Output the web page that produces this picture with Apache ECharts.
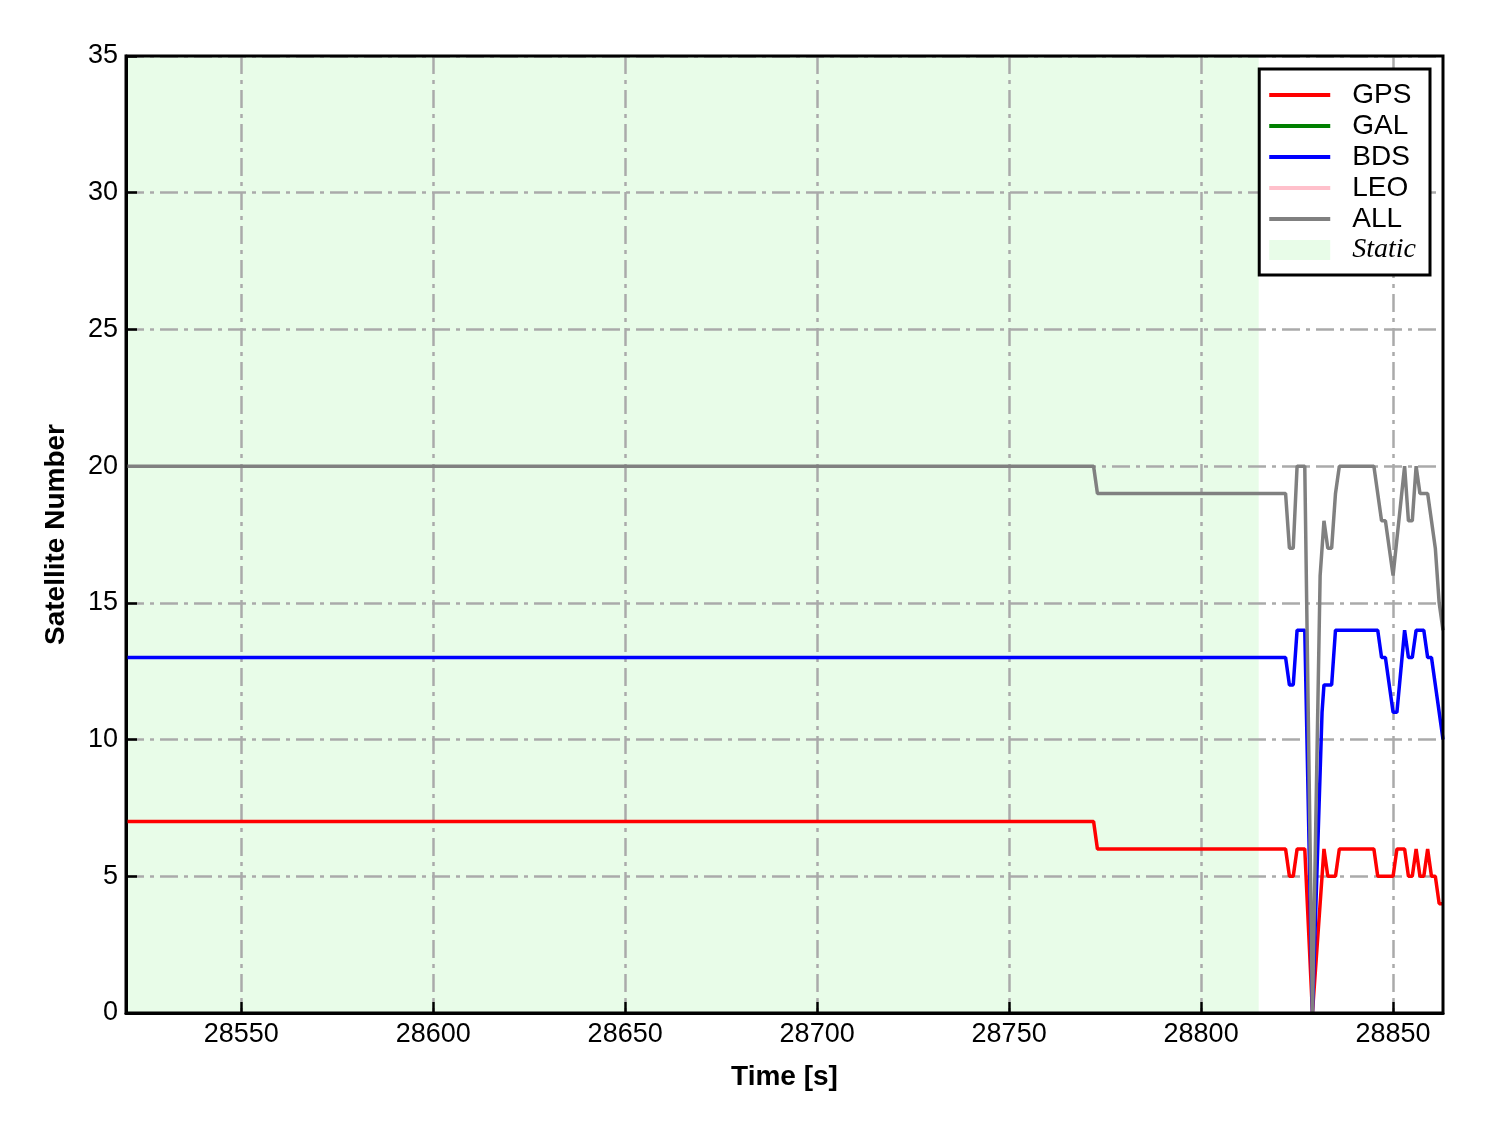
<!DOCTYPE html>
<html><head><meta charset="utf-8">
<script src="https://cdn.jsdelivr.net/npm/echarts@6/dist/echarts.min.js"></script>
<style>html,body{margin:0;padding:0;background:#fff}#c{width:1488px;height:1133px}</style>
</head><body><div id="c"></div>
<script>
// ---- data ----
const xTicks = [28550, 28600, 28650, 28700, 28750, 28800, 28850];
const yTicks = [0, 5, 10, 15, 20, 25, 30, 35];
const xRange = [28520, 28863];
const staticRange = [28520, 28815];

const gps = [[28520,7],[28772,7],[28773,6],[28822,6],[28823,5],[28824,5],[28825,6],[28827,6],[28829,0],[28832,6],[28833,5],[28835,5],[28836,6],[28845,6],[28846,5],[28850,5],[28851,6],[28853,6],[28854,5],[28855,5],[28856,6],[28857,5],[28858,5],[28859,6],[28860,5],[28861,5],[28862,4],[28863,4]];
const gal = [];
const bds = [[28520,13],[28822,13],[28823,12],[28824,12],[28825,14],[28827,14],[28829,0],[28831.5,11],[28832,12],[28834,12],[28835,14],[28846,14],[28847,13],[28848,13],[28850,11],[28851,11],[28853,14],[28854,13],[28855,13],[28856,14],[28858,14],[28859,13],[28860,13],[28863,10]];
const leo = [];
const allSat = [[28520,20],[28772,20],[28773,19],[28822,19],[28823,17],[28824,17],[28825,20],[28827,20],[28829,0],[28831,16],[28832,18],[28833,17],[28834,17],[28835,19],[28836,20],[28845,20],[28847,18],[28848,18],[28850,16],[28853,20],[28854,18],[28855,18],[28856,20],[28857,19],[28859,19],[28860,18],[28861,17],[28862,15],[28863,14]];

const FONT = 'Liberation Sans, Arial, sans-serif';
const G = {left: 126, right: 45, top: 56, bottom: 120};
const W = 1488, H = 1133;
const gridLine = {show: true, lineStyle: {color: '#aaaaaa', width: 2.5, type: [18, 6, 4, 6]}};

function lineSeries(name, data, color) {
  return {name, type: 'line', data, symbol: 'none', showSymbol: false, animation: false,
    lineStyle: {width: 3.5, color}, itemStyle: {color}, z: 3};
}
const lineIcon = 'path://M0,0L64,0L64,4L0,4Z';

const chart = echarts.init(document.getElementById('c'), null, {renderer: 'canvas'});
chart.setOption({
  animation: false,
  backgroundColor: '#ffffff',
  grid: {left: G.left, right: G.right, top: G.top, bottom: G.bottom, show: false},
  xAxis: {
    type: 'value', min: xRange[0], max: xRange[1],
    name: 'Time [s]', nameLocation: 'middle', nameGap: 50,
    nameTextStyle: {fontSize: 28, fontWeight: 'bold', color: '#000', fontFamily: FONT},
    axisLine: {show: true, lineStyle: {color: '#000', width: 3}},
    axisTick: {show: true, inside: true, length: 11, lineStyle: {color: '#000', width: 2.5}, customValues: xTicks},
    axisLabel: {color: '#000', fontSize: 27, fontFamily: FONT, margin: 8, customValues: xTicks, formatter: v => String(v)},
    splitLine: gridLine
  },
  yAxis: {
    type: 'value', min: yTicks[0], max: yTicks[yTicks.length - 1], interval: 5,
    name: 'Satellite Number', nameLocation: 'middle', nameGap: 56,
    nameTextStyle: {fontSize: 28, fontWeight: 'bold', color: '#000', fontFamily: FONT},
    axisLine: {show: true, lineStyle: {color: '#000', width: 3}},
    axisTick: {show: true, inside: true, length: 11, lineStyle: {color: '#000', width: 2.5}},
    axisLabel: {color: '#000', fontSize: 27, fontFamily: FONT, margin: 8, formatter: v => String(v)},
    splitLine: gridLine
  },
  legend: {
    orient: 'vertical', right: 58, top: 69,
    backgroundColor: '#fff', borderColor: '#000', borderWidth: 3,
    padding: [12, 14, 11, 10], itemWidth: 61, itemHeight: 20, itemGap: 3, symbolKeepAspect: true,
    textStyle: {fontSize: 28, lineHeight: 27, fontFamily: FONT, color: '#000', padding: [0, 0, 0, 17]},
    data: [
      {name: 'GPS', icon: lineIcon}, {name: 'GAL', icon: lineIcon}, {name: 'BDS', icon: lineIcon},
      {name: 'LEO', icon: lineIcon}, {name: 'ALL', icon: lineIcon},
      {name: 'Static', icon: 'rect', textStyle: {fontStyle: 'italic', fontFamily: 'Liberation Serif, Times New Roman, serif'}}
    ]
  },
  graphic: [{
    type: 'rect', z: 100, silent: true,
    shape: {x: G.left, y: G.top, width: W - G.left - G.right, height: H - G.top - G.bottom},
    style: {fill: 'none', stroke: '#000', lineWidth: 3}
  }],
  series: [
    {name: 'Static', type: 'bar', data: [], itemStyle: {color: '#e8fce8'}, z: -5,
      markArea: {silent: true, z: -5, itemStyle: {color: '#e8fce8'},
        data: [[{xAxis: staticRange[0]}, {xAxis: staticRange[1]}]]}},
    lineSeries('GPS', gps, '#ff0000'),
    lineSeries('GAL', gal, '#008000'),
    lineSeries('BDS', bds, '#0000ff'),
    lineSeries('LEO', leo, '#ffc0cb'),
    lineSeries('ALL', allSat, '#808080')
  ]
});
</script>
</body></html>
